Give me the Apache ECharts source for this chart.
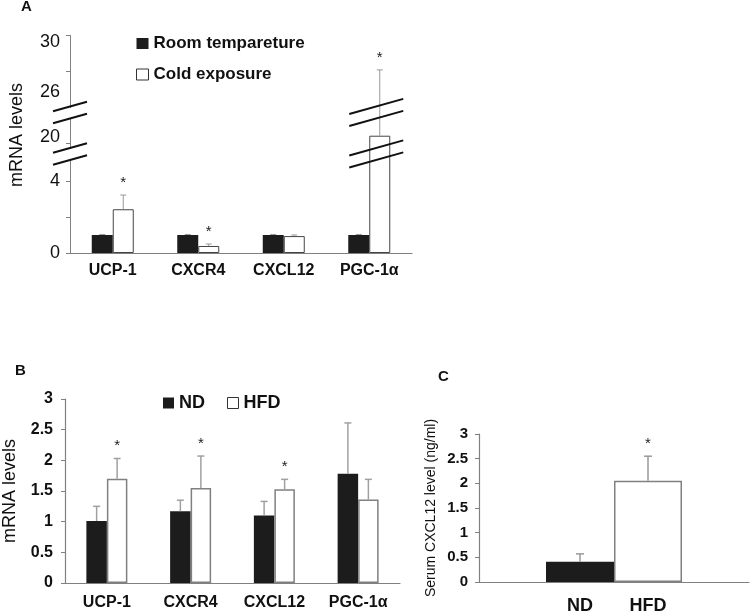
<!DOCTYPE html>
<html>
<head>
<meta charset="utf-8">
<script src="https://cdn.jsdelivr.net/npm/echarts@6.0.0/dist/echarts.min.js"></script>
<style>
  html, body { margin: 0; padding: 0; background: #fff; }
  #main { width: 750px; height: 611px; }
</style>
</head>
<body>
<div id="main"></div>
<script>
// genes shared by panels A and B
var genes = ['UCP-1', 'CXCR4', 'CXCL12', 'PGC-1α'];

// panel A: room temperature vs cold exposure
var roomTemp = [1, 1, 1, 1];
var roomTempErr = [1.03, 1.03, 1.03, 1.03];
var coldExp = [2.43, 0.39, 0.94, 20.4];
var coldExpErr = [3.22, 0.5, 1.0, 28.06];
var coldExpSig = [1, 1, 0, 1];
var ticksA = [0, 2, 4, 20, 28, 30];
var labelsA = [0, 4, 20, 26, 30];
var breaksA = [[5.17, 19.72], [21.39, 26]];

// panel B: ND vs HFD
var ndB = [1.01, 1.17, 1.10, 1.78];
var ndErrB = [1.25, 1.35, 1.33, 2.61];
var hfdB = [1.70, 1.55, 1.53, 1.36];
var hfdErrB = [2.03, 2.07, 1.69, 1.69];
var hfdSigB = [1, 1, 1, 0];

// panel C: serum CXCL12
var groupsC = ['ND', 'HFD'];
var serumC = [0.41, 2.05];
var serumErrC = [0.57, 2.55];
var serumSigC = [0, 1];

var FONT = '"Liberation Sans", Arial, sans-serif';
var DARK = '#1c1c1c';
var GREY = '#808080';
var gridA = {left: 70, right: 338, top: 35, bottom: 358};
var gridB = {left: 64, right: 350, top: 399, bottom: 28};
var gridC = {left: 479, right: 1, top: 434, bottom: 29};

// error bar (upward only) + optional star
function errSeries(xi, vals, tops, sig, side, bw, opt) {
  return {
    type: 'custom', xAxisIndex: xi, yAxisIndex: xi, z: 5,
    data: vals.map(function (v, i) { return [i, v, tops[i], sig ? sig[i] : 0]; }),
    renderItem: function (params, api) {
      var p0 = api.coord([api.value(0), api.value(1)]);
      var p1 = api.coord([api.value(0), api.value(2)]);
      var x = p0[0] + side * bw / 2;
      var st = {stroke: opt.color, lineWidth: opt.width};
      var kids = [
        {type: 'line', shape: {x1: x, y1: p0[1], x2: x, y2: p1[1]}, style: st},
        {type: 'line', shape: {x1: x - opt.cap, y1: p1[1], x2: x + opt.cap, y2: p1[1]}, style: st}
      ];
      if (api.value(3)) {
        kids.push({type: 'text', x: x, y: p1[1] - 5, style: {
          text: '*', fontSize: 15, fontFamily: FONT, fill: '#222', align: 'center', verticalAlign: 'bottom'}});
      }
      return {type: 'group', children: kids};
    }
  };
}

function catAxis(gi, data, fs, margin, showLabel) {
  return {
    type: 'category', gridIndex: gi, data: data,
    axisLine: {lineStyle: {color: GREY, width: 1.2}},
    axisTick: {inside: true, length: 5, lineStyle: {color: GREY}},
    axisLabel: {show: showLabel, fontFamily: FONT, fontWeight: 'bold', fontSize: fs, color: '#111', margin: margin}
  };
}

var chart = echarts.init(document.getElementById('main'));

var labelStyleA = {fontFamily: FONT, fontSize: 18, color: '#111'};
var option = {
  backgroundColor: '#fff',
  animation: false,
  title: [
    {text: 'A', left: 21, top: -1, padding: 0, textStyle: {fontFamily: FONT, fontWeight: 'bold', fontSize: 15, color: '#111'}},
    {text: 'B', left: 15, top: 363, padding: 0, textStyle: {fontFamily: FONT, fontWeight: 'bold', fontSize: 15, color: '#111'}},
    {text: 'C', left: 438, top: 369, padding: 0, textStyle: {fontFamily: FONT, fontWeight: 'bold', fontSize: 15, color: '#111'}}
  ],
  legend: [
    {
      orient: 'vertical', left: 136, top: 35, itemGap: 14, itemWidth: 12, itemHeight: 11, padding: 0,
      icon: 'rect', selectedMode: false,
      textStyle: {fontFamily: FONT, fontWeight: 'bold', fontSize: 17, color: '#111'},
      data: [
        {name: 'Room tempareture', itemStyle: {color: DARK, borderWidth: 0}},
        {name: 'Cold exposure', itemStyle: {color: '#fff', borderColor: '#333', borderWidth: 1}}
      ]
    },
    {
      orient: 'horizontal', left: 163, top: 394, itemGap: 22, itemWidth: 11, itemHeight: 11, padding: 0,
      icon: 'rect', selectedMode: false,
      textStyle: {fontFamily: FONT, fontWeight: 'bold', fontSize: 18, color: '#111'},
      data: [
        {name: 'ND', itemStyle: {color: DARK, borderWidth: 0}},
        {name: 'HFD', itemStyle: {color: '#fff', borderColor: '#333', borderWidth: 1}}
      ]
    }
  ],
  grid: [gridA, gridB, gridC],
  xAxis: [
    catAxis(0, genes, 16, 10, true),
    catAxis(1, genes, 16, 12, true),
    catAxis(2, ['serum'], 16, 10, false)
  ],
  yAxis: [
    {
      type: 'value', gridIndex: 0, min: 0, max: 30,
      breaks: [
        {start: breaksA[0][0], end: breaksA[0][1], gap: '5.5%'},
        {start: breaksA[1][0], end: breaksA[1][1], gap: '5%'}
      ],
      breakArea: {show: false},
      splitLine: {show: false},
      axisLine: {show: true, lineStyle: {color: GREY, width: 1}},
      axisTick: {show: true, length: 4, lineStyle: {color: GREY}, customValues: ticksA},
      axisLabel: {
        customValues: labelsA, margin: 10, fontFamily: FONT, fontSize: 18, color: '#111',
        // the printed figure sets the upper labels a little off their ticks
        formatter: function (v) {
          if (v === 30) return '{dn|30}';
          if (v === 26) return '{up2|26}';
          if (v === 20) return '{up1|20}';
          return String(v);
        },
        rich: {
          dn: Object.assign({padding: [14, 0, 0, 0]}, labelStyleA),
          up2: Object.assign({padding: [0, 0, 30, 0]}, labelStyleA),
          up1: Object.assign({padding: [0, 0, 12, 0]}, labelStyleA)
        }
      },
      name: 'mRNA levels', nameLocation: 'middle', nameGap: 44,
      nameTextStyle: {fontFamily: FONT, fontSize: 18, color: '#111', padding: [0, 0, 0, 18]}
    },
    {
      type: 'value', gridIndex: 1, min: 0, max: 3, interval: 0.5,
      splitLine: {show: false},
      axisLine: {show: true, lineStyle: {color: GREY, width: 1.2}},
      axisTick: {show: true, length: 4, lineStyle: {color: GREY}},
      axisLabel: {margin: 12, fontFamily: FONT, fontWeight: 'bold', fontSize: 16, color: '#111'},
      name: 'mRNA levels', nameLocation: 'middle', nameGap: 46,
      nameTextStyle: {fontFamily: FONT, fontSize: 18, color: '#111'}
    },
    {
      type: 'value', gridIndex: 2, min: 0, max: 3, interval: 0.5,
      splitLine: {show: false},
      axisLine: {show: true, lineStyle: {color: GREY, width: 1.2}},
      axisTick: {show: true, length: 4, lineStyle: {color: GREY}},
      axisLabel: {margin: 11, fontFamily: FONT, fontWeight: 'bold', fontSize: 15, color: '#111'},
      name: 'Serum CXCL12 level (ng/ml)', nameLocation: 'middle', nameGap: 41,
      nameTextStyle: {fontFamily: FONT, fontSize: 14, color: '#111'}
    }
  ],
  series: [
    // A
    {name: 'Room tempareture', type: 'bar', xAxisIndex: 0, yAxisIndex: 0, data: roomTemp,
      barWidth: 21, barGap: '0%', itemStyle: {color: DARK}},
    {name: 'Cold exposure', type: 'bar', xAxisIndex: 0, yAxisIndex: 0, data: coldExp,
      barWidth: 21, barGap: '0%', itemStyle: {color: '#fff', borderColor: '#444', borderWidth: 1}},
    errSeries(0, roomTemp, roomTempErr, null, -1, 21, {color: '#999', width: 1, cap: 3}),
    errSeries(0, coldExp, coldExpErr, coldExpSig, 1, 21, {color: '#999', width: 1, cap: 3}),
    // B
    {name: 'ND', type: 'bar', xAxisIndex: 1, yAxisIndex: 1, data: ndB,
      barWidth: 20.5, barGap: '0%', itemStyle: {color: DARK}},
    {name: 'HFD', type: 'bar', xAxisIndex: 1, yAxisIndex: 1, data: hfdB,
      barWidth: 20.5, barGap: '0%', itemStyle: {color: '#fff', borderColor: GREY, borderWidth: 1.5}},
    errSeries(1, ndB, ndErrB, null, -1, 20.5, {color: '#a0a0a0', width: 1.5, cap: 3.5}),
    errSeries(1, hfdB, hfdErrB, hfdSigB, 1, 20.5, {color: '#a0a0a0', width: 1.5, cap: 3.5}),
    // C
    {name: groupsC[0], type: 'bar', xAxisIndex: 2, yAxisIndex: 2, data: [serumC[0]],
      barWidth: 68, barGap: '0%', itemStyle: {color: DARK},
      label: {show: true, position: 'bottom', distance: 15, formatter: '{a}',
        fontFamily: FONT, fontWeight: 'bold', fontSize: 18, color: '#111'}},
    {name: groupsC[1], type: 'bar', xAxisIndex: 2, yAxisIndex: 2, data: [serumC[1]],
      barWidth: 68, barGap: '0%', itemStyle: {color: '#fff', borderColor: GREY, borderWidth: 1.5},
      label: {show: true, position: 'bottom', distance: 15, formatter: '{a}',
        fontFamily: FONT, fontWeight: 'bold', fontSize: 18, color: '#111'}},
    errSeries(2, [serumC[0]], [serumErrC[0]], [serumSigC[0]], -1, 68, {color: '#999', width: 1.5, cap: 4}),
    errSeries(2, [serumC[1]], [serumErrC[1]], [serumSigC[1]], 1, 68, {color: '#999', width: 1.5, cap: 4})
  ]
};
chart.setOption(option);

// double-slash break marks on the axis and on the tall PGC-1α bar
var slope = 0.28;
function slashes(xa, xb, yc) {
  var out = [];
  [-6, 6].forEach(function (d) {
    var xm = (xa + xb) / 2;
    out.push({type: 'line', z: 20, shape: {
      x1: xa, y1: yc + d + slope * (xm - xa), x2: xb, y2: yc + d - slope * (xb - xm)},
      style: {stroke: '#111', lineWidth: 2}});
  });
  return out;
}
var marks = [];
breaksA.forEach(function (b) {
  var yc = (chart.convertToPixel({yAxisIndex: 0}, b[0]) + chart.convertToPixel({yAxisIndex: 0}, b[1])) / 2;
  var xp = chart.convertToPixel({xAxisIndex: 0}, 3);
  marks = marks.concat(slashes(gridA.left - 17, gridA.left + 17, yc));
  marks = marks.concat(slashes(xp - 20, xp + 34, yc));
});
chart.setOption({graphic: marks});
</script>
</body>
</html>
